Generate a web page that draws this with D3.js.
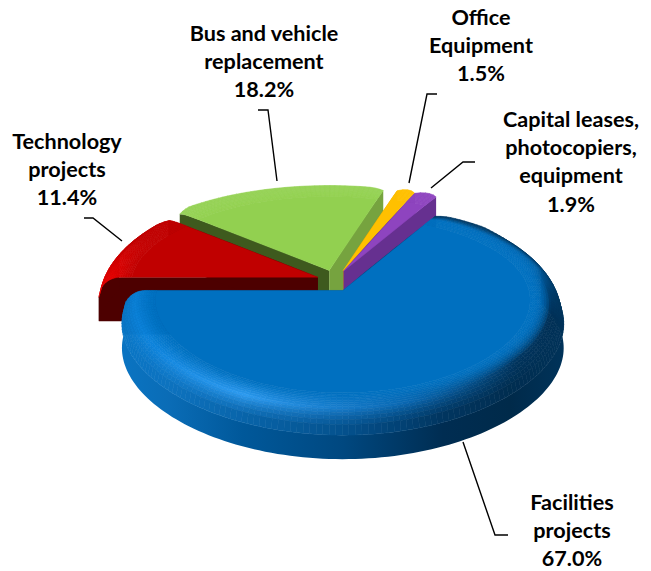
<!DOCTYPE html>
<html><head><meta charset="utf-8">
<script src="https://cdnjs.cloudflare.com/ajax/libs/d3/7.8.5/d3.min.js"></script>
<style>html,body{margin:0;padding:0;background:#fff}svg{display:block}
text{font-family:Lato,"Open Sans",sans-serif;font-weight:700;font-size:21.6px;fill:#000;text-anchor:middle}</style>
</head><body><div id="c"></div>
<script>
const categories = ["Technology projects","Bus and vehicle replacement","Office Equipment","Capital leases, photocopiers, equipment","Facilities projects"];
const values = [11.4,18.2,1.5,1.9,67.0];
const faceColors = ["#c00000","#92d050","#ffc000","#8e44bf","#0070c0"];
const startWallColors = ["#4d0000","#3e5a1e","#cc9a00","#5f2d85","#003a66"];
const endWallColors = ["#4d0000","#76a33f","#e0a800","#663090","#003a66"];
const rimWallColors = ["#4d0000","#6f9a3c","#cc9a00","#663090","#004b80"];
const labelLines = [["Technology","projects","11.4%"],["Bus and vehicle","replacement","18.2%"],["Office","Equipment","1.5%"],["Capital leases,","photocopiers,","equipment","1.9%"],["Facilities","projects","67.0%"]];
const labelAnchors = [[67,142],[264,34],[481,18],[571,120],[572,503]];
const leaders = [[[84,218],[93,218],[122,241]],[[258,110],[268,110],[277,181]],[[437,94],[427,94],[409,183]],[[475,162],[463,162],[431,188]],[[508,535],[495,535],[463,442]]];
const explodeXFactor = [1,1,1.6,1.3,1];
const blueRimAngles = [29,75,90,105,130,165,205,240,270];
const blueRimColors = ["#0070c0","#0064ad","#003f6f","#002e54","#00345e","#0a68b2","#2e9bf0","#0d84dc","#0a80d6"];
const blueWallX = [122,170,243,343,443,510,565];
const blueWallColors = ["#0a74c2","#0a6cb6","#00589a","#004880","#002d52","#002a4a","#00335a"];
const easeAngles = [29,110,170,270];
const easePowers = [3,3,1.3,1.3];

const W=651,H=571,rad=Math.PI/180;
const svg=d3.select("#c").append("svg").attr("width",W).attr("height",H);
const C=[334,281],EX=17.3,EY=11,RX=219,RY=101,KY=.19,KX=.13,DEPTH=44,DROP=20,BEV0=.85,FIL0=.9,PEAK=.62;
const line=d3.line();
const blueRim=d3.scaleLinear().domain(blueRimAngles).range(blueRimColors).clamp(true);
const blueWall=d3.scaleLinear().domain(blueWallX).range(blueWallColors).clamp(true);
const easePower=d3.scaleLinear().domain(easeAngles).range(easePowers).clamp(true);
const pie=d3.pie().sort(null).startAngle(270*rad).endAngle(630*rad);
const arcs=pie(values);

const grad=svg.append("defs").append("linearGradient").attr("id","blueWall")
  .attr("gradientUnits","userSpaceOnUse").attr("x1",blueWallX[0]).attr("x2",blueWallX[blueWallX.length-1]).attr("y1",0).attr("y2",0);
grad.selectAll("stop").data(blueWallX).join("stop")
  .attr("offset",d=>(d-blueWallX[0])/(blueWallX[blueWallX.length-1]-blueWallX[0]))
  .attr("stop-color",(d,i)=>blueWallColors[i]);

function makeSlice(a,i){
  const phi=(a.startAngle+a.endAngle)/2;
  const apex=[C[0]+EX*explodeXFactor[i]*Math.sin(phi),C[1]-EY*Math.cos(phi)];
  const s0=a.startAngle,s1=a.endAngle,w=Math.min(5*rad,(s1-s0)/2);
  function rr(th,r){
    const d=Math.min(th-s0,s1-th);
    if(r<=BEV0||d>=w) return r;
    return r-(r-BEV0)/(1-BEV0)*.03*Math.max(0,Math.cos(th))*Math.pow(1-d/w,2);
  }
  function P(th,r0,z){
    const r=rr(th,r0),u=r*Math.sin(th),v=r*Math.cos(th);
    const f=Math.max(0,Math.min(1,1-1.4*Math.max(Math.cos(th),0)));
    const q=Math.max(0,(r0-FIL0)/(1-FIL0));
    const dr=z===undefined?DROP*f*(1-Math.sqrt(Math.max(0,1-q*q))):z;
    return [apex[0]+RX*u/(1+KX*v),apex[1]-RY*v/(1+KY*v)+dr];
  }
  return {apex,s0,s1,P,i};
}
const angleSteps=(s0,s1,step)=>{const n=Math.max(2,Math.ceil((s1-s0)/(step*rad)));return d3.range(n+1).map(k=>s0+(s1-s0)*k/n)};
const radii=n=>d3.range(n+1).map(k=>k/n);

function drawSlice(S){
  const {P,s0,s1,i,apex}=S,g=svg.append("g");
  const rs=radii(30),ths=angleSteps(s0,s1,1.5);
  const bottom=(th,r)=>P(th,r,DEPTH);
  const wallPoly=(th)=>rs.map(r=>P(th,r)).concat(rs.slice().reverse().map(r=>bottom(th,r)));
  g.append("path").attr("d",line(wallPoly(s0))+"Z").attr("fill",startWallColors[i]);
  g.append("path").attr("d",line(wallPoly(s1))+"Z").attr("fill",endWallColors[i]);
  // outer wall: only the part that faces the viewer
  const wc=(x)=>i===4?blueWall(x):rimWallColors[i];
  const front=ths.filter(t=>Math.cos(t)<.35);
  if(front.length>1){
    const poly=front.map(t=>P(t,1)).concat(front.slice().reverse().map(t=>bottom(t,1)));
    g.append("path").attr("d",line(poly)+"Z").attr("fill",i===4?"url(#blueWall)":rimWallColors[i]);
  }
  const strips=d3.pairs(ths);
  const base=faceColors[i];
  const inner=ths.map(t=>P(t,BEV0));
  g.append("path").attr("d",line([apex].concat(inner))+"Z").attr("fill",base).attr("stroke",base).attr("stroke-width",.5);
  const edgeColor=th=>{
    const deg=((th/rad)%360+360)%360;
    if(i===4) return blueRim(deg);
    if(i===0) return d3.interpolateRgb("#e80404","#c00000")(Math.min(1,(deg-270)/26));
    if(i===1) return "#95d255";
    return base;
  };
  const cells=[],N=14,rsB=d3.range(N+1).map(k=>BEV0+(1-BEV0)*k/N);
  strips.forEach(([a,b])=>d3.pairs(rsB).forEach(([r0,r1])=>cells.push({a,b,r0,r1})));
  const cellColor=c=>{
    const t=((c.r0+c.r1)/2-BEV0)/(1-BEV0),m=(c.a+c.b)/2,e=edgeColor(m);
    const deg=((m/rad)%360+360)%360;
    if(t<PEAK) return d3.interpolateRgb(base,e)(Math.pow(t/PEAK,i===4?easePower(deg):1));
    if(i!==4) return e;
    return d3.interpolateRgb(e,wc(P(m,1)[0]))((t-PEAK)/(1-PEAK)*.9);
  };
  g.append("g").selectAll("path").data(cells).join("path")
    .attr("d",c=>line([P(c.a,c.r0),P(c.b,c.r0),P(c.b,c.r1),P(c.a,c.r1)])+"Z")
    .attr("fill",cellColor).attr("stroke",cellColor).attr("stroke-width",.6);
}
const slices=arcs.map(makeSlice);
[1,2,3,0,4].forEach(k=>drawSlice(slices[k]));

svg.append("g").selectAll("path").data(leaders).join("path")
  .attr("d",d=>line(d)).attr("fill","none").attr("stroke","#000").attr("stroke-width",1.4);
const lab=svg.append("g").selectAll("text").data(labelLines).join("text")
  .attr("x",(d,i)=>labelAnchors[i][0]).attr("y",(d,i)=>labelAnchors[i][1]+6.5);
lab.selectAll("tspan").data(d=>d).join("tspan")
  .attr("x",function(){return d3.select(this.parentNode).attr("x")})
  .attr("dy",(d,i)=>i?28.4:0).text(d=>d);
</script></body></html>
